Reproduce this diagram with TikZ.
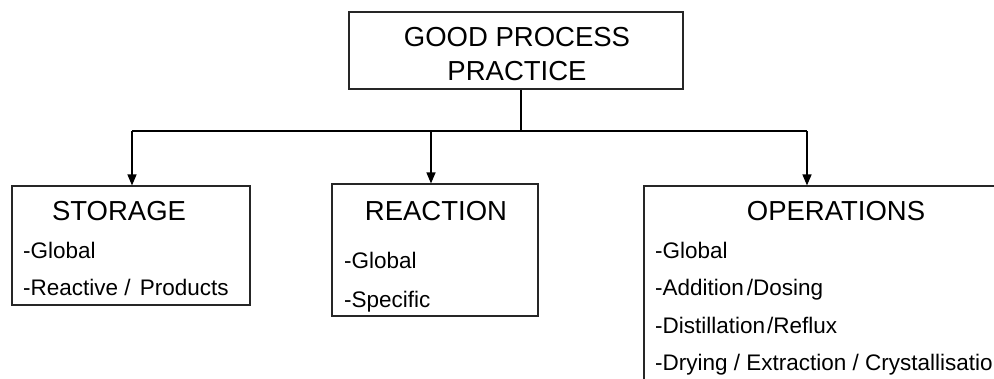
\documentclass[tikz,border=0pt]{standalone}
\usepackage{fontspec}
\setmainfont{Liberation Sans}
\usetikzlibrary{arrows.meta}
\begin{document}
\begin{tikzpicture}[x=1pt,y=-1pt,
  box/.style={draw=black!85,line width=1.1pt,rectangle,inner sep=0pt},
  head/.style={inner sep=0pt,font=\fontsize{27.5}{32}\selectfont},
  item/.style={inner sep=0pt,anchor=base west,font=\fontsize{22.5}{27}\selectfont},
  link/.style={line width=1.4pt,-{Triangle[width=9pt,length=11pt]}},
  trunk/.style={line width=1.2pt}]
  \useasboundingbox (0,0) rectangle (994,378);
  \clip (0,0) rectangle (994,378);

  % boxes
  \node[box,minimum width=334pt,minimum height=77pt] (gpp) at (516,50.5) {};
  \node[box,minimum width=238pt,minimum height=119pt] (storage) at (131,245.5) {};
  \node[box,minimum width=206pt,minimum height=132pt] (reaction) at (435,250) {};
  \node[box,minimum width=420pt,minimum height=230pt] (ops) at (854,301) {};

  % top box title
  \node[head,anchor=base] (gpp1) at (517,46) {GOOD PROCESS};
  \node[head,anchor=base] (gpp2) at (517,80) {PRACTICE};

  % storage
  \node[head,anchor=base] (st) at (119,220) {STORAGE};
  \node[item] (st1) at (23,258) {-Global};
  \node[item] (st2) at (23,295) {-Reactive /\hspace{3pt} Products};

  % reaction
  \node[head,anchor=base] (re) at (436,220) {REACTION};
  \node[item] (re1) at (344,268) {-Global};
  \node[item] (re2) at (344,307) {-Specific};

  % operations
  \node[head,anchor=base] (op) at (836,220) {OPERATIONS};
  \node[item] (op1) at (655,258) {-Global};
  \node[item] (op2) at (655,295) {-Addition\hspace{3pt}/Dosing};
  \node[item] (op3) at (655,333) {-Distillation\hspace{2pt}/Reflux};
  \node[item] (op4) at (655,370) {-Drying / Extraction / Crystallisation};

  % connectors
  \coordinate (hub) at (521,131);
  \draw[trunk] ([xshift=5pt]gpp.south) -- (hub);
  \draw[trunk] (132,131) coordinate (hl) -- (807,131) coordinate (hr);
  \draw[link] (hl) -- (storage.north -| hl);
  \draw[link] (431,131) coordinate (hm) -- (reaction.north -| hm);
  \draw[link] (hr) -- (ops.north -| hr);
\end{tikzpicture}
\end{document}
